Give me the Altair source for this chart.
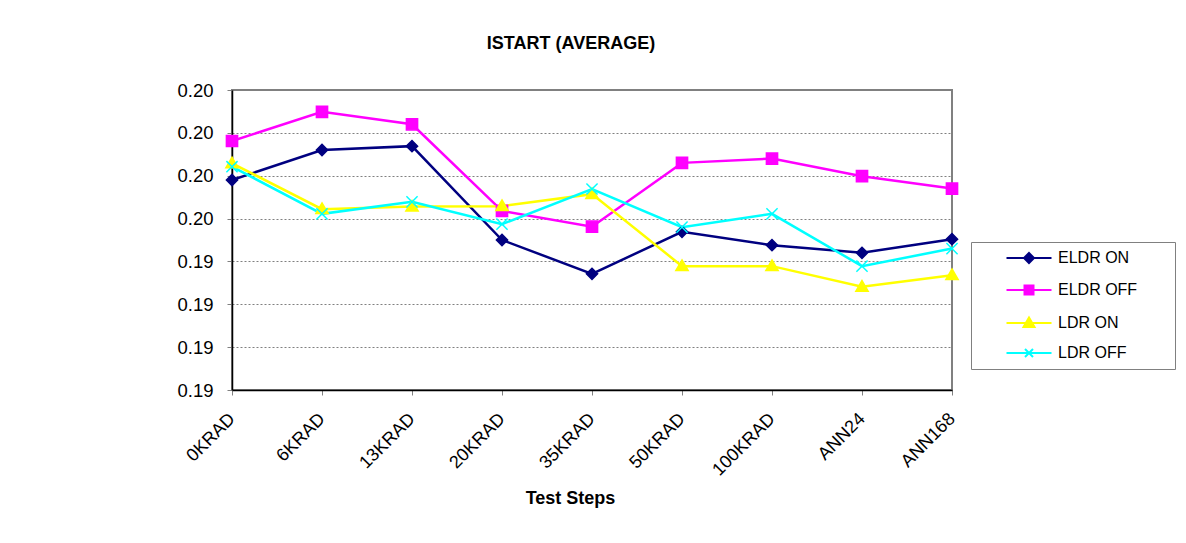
import altair as alt
import pandas as pd

steps = ["0KRAD", "6KRAD", "13KRAD", "20KRAD", "35KRAD", "50KRAD", "100KRAD", "ANN24", "ANN168"]
series_names = ["ELDR ON", "ELDR OFF", "LDR ON", "LDR OFF"]
eldr_on = [0.19690, 0.19760, 0.19769, 0.19550, 0.19471, 0.19569, 0.19538, 0.19520, 0.19552]
eldr_off = [0.19781, 0.19849, 0.19820, 0.19618, 0.19581, 0.19730, 0.19740, 0.19699, 0.19670]
ldr_on = [0.19729, 0.19622, 0.19628, 0.19629, 0.19657, 0.19489, 0.19489, 0.19441, 0.19468]
ldr_off = [0.19721, 0.19611, 0.19639, 0.19587, 0.19669, 0.19580, 0.19611, 0.19489, 0.19530]
y_ticks = [0.192, 0.193, 0.194, 0.195, 0.196, 0.197, 0.198, 0.199]
y_tick_labels = ["0.19", "0.19", "0.19", "0.19", "0.20", "0.20", "0.20", "0.20"]

colors = ["#000080", "#FF00FF", "#FFFF00", "#00FFFF"]
plot_shapes = [
    "diamond",
    "square",
    "M0,-1.1L1.1,0.8L-1.1,0.8Z",
    "M-1,-1L1,1M-1,1L1,-1",
]
# legend symbols: a short line with the marker in its middle (shifted right inside the legend box)
legend_shapes = [
    "M3.9,0H12.9M8.4,-1L9.4,0L8.4,1L7.4,0Z",
    "M3.9,0H12.9M7.5,-0.9H9.3V0.9H7.5Z",
    "M3.9,0H12.9M8.4,-1.1L9.5,0.8L7.3,0.8Z",
    "M3.9,0H12.9M7.6,-0.8L9.2,0.8M7.6,0.8L9.2,-0.8",
]

rows = []
for name, vals in zip(series_names, [eldr_on, eldr_off, ldr_on, ldr_off]):
    for s, v in zip(steps, vals):
        rows.append({"step": s, "value": v, "series": name})
df = pd.DataFrame(rows)

label_expr = "+".join(
    f"(abs(datum.value-{t})<0.0001 ? '{l}' : '')" for t, l in zip(y_ticks, y_tick_labels)
)

x_enc = alt.X(
    "step:N",
    sort=steps,
    scale=alt.Scale(type="point", padding=0),
    axis=alt.Axis(
        title="Test Steps",
        labelAngle=-45,
        labelAlign="right",
        labelBaseline="middle",
        labelPadding=21,
        labelFontSize=18,
        tickSize=5,
        titleFontSize=18,
        titleFontWeight="bold",
        titleY=108,
        titleX=338,
        titleBaseline="middle",
    ),
)
y_enc = alt.Y(
    "value:Q",
    scale=alt.Scale(domain=[0.192, 0.199], zero=False, nice=False),
    axis=alt.Axis(
        title=None,
        values=y_ticks,
        labelExpr=label_expr,
        labelFontSize=18.5,
        labelPadding=14,
        tickSize=5,
    ),
)

base = alt.Chart(df).encode(x=x_enc, y=y_enc)

lines = base.mark_line(strokeWidth=2.5).encode(
    color=alt.Color("series:N", scale=alt.Scale(domain=series_names, range=colors), legend=None),
    detail="series:N",
)

points = base.mark_point(filled=False, size=125, strokeWidth=1.5, opacity=1).encode(
    fill=alt.Fill("series:N", scale=alt.Scale(domain=series_names, range=colors), legend=None),
    stroke=alt.Stroke("series:N", scale=alt.Scale(domain=series_names, range=colors), legend=None),
    shape=alt.Shape("series:N", scale=alt.Scale(domain=series_names, range=plot_shapes), legend=None),
)

legend_def = alt.Legend(
    title="----",
    titleOrient="right",
    titleColor="white",
    titleFontSize=16,
    titleFontWeight="normal",
    titlePadding=8,
    orient="none",
    legendX=739,
    legendY=152,
    labelFontSize=16,
    labelOffset=63,
    rowPadding=14,
    padding=8,
    strokeColor="#808080",
    fillColor="white",
    symbolStrokeWidth=2,
)

legend_layer = (
    alt.Chart(df)
    .transform_filter("false")
    .mark_point(filled=False, size=100, strokeWidth=2, opacity=1)
    .encode(
        x=x_enc,
        y=y_enc,
        fill=alt.Fill("series:N", scale=alt.Scale(domain=series_names, range=colors), legend=legend_def),
        stroke=alt.Stroke("series:N", scale=alt.Scale(domain=series_names, range=colors), legend=legend_def),
        shape=alt.Shape("series:N", scale=alt.Scale(domain=series_names, range=legend_shapes), legend=legend_def),
    )
)

chart = (
    alt.layer(lines, points, legend_layer)
    .resolve_scale(fill="independent", stroke="independent", shape="independent")
    .properties(
        width=720,
        height=300,
        padding={"left": 224, "top": 82, "right": 226, "bottom": 130},
        autosize=alt.AutoSizeParams(type="none"),
        title=alt.TitleParams(
            "ISTART (AVERAGE)",
            fontSize=18,
            fontWeight="bold",
            font="Liberation Sans",
            color="black",
            anchor="middle",
            dx=-21,
            offset=28,
        ),
    )
    .configure(font="Liberation Sans")
    .configure_view(stroke="#808080", strokeWidth=2)
    .configure_axis(
        domainColor="black",
        domainWidth=1.5,
        gridColor="#808080",
        gridDash=[2, 2],
        gridWidth=1,
        tickColor="#808080",
        labelColor="black",
        titleColor="black",
        labelFont="Liberation Sans",
        titleFont="Liberation Sans",
    )
    .configure_legend(labelFont="Liberation Sans", labelColor="black")
)

chart.save("out.html", embed_options={"renderer": "svg", "actions": False})
